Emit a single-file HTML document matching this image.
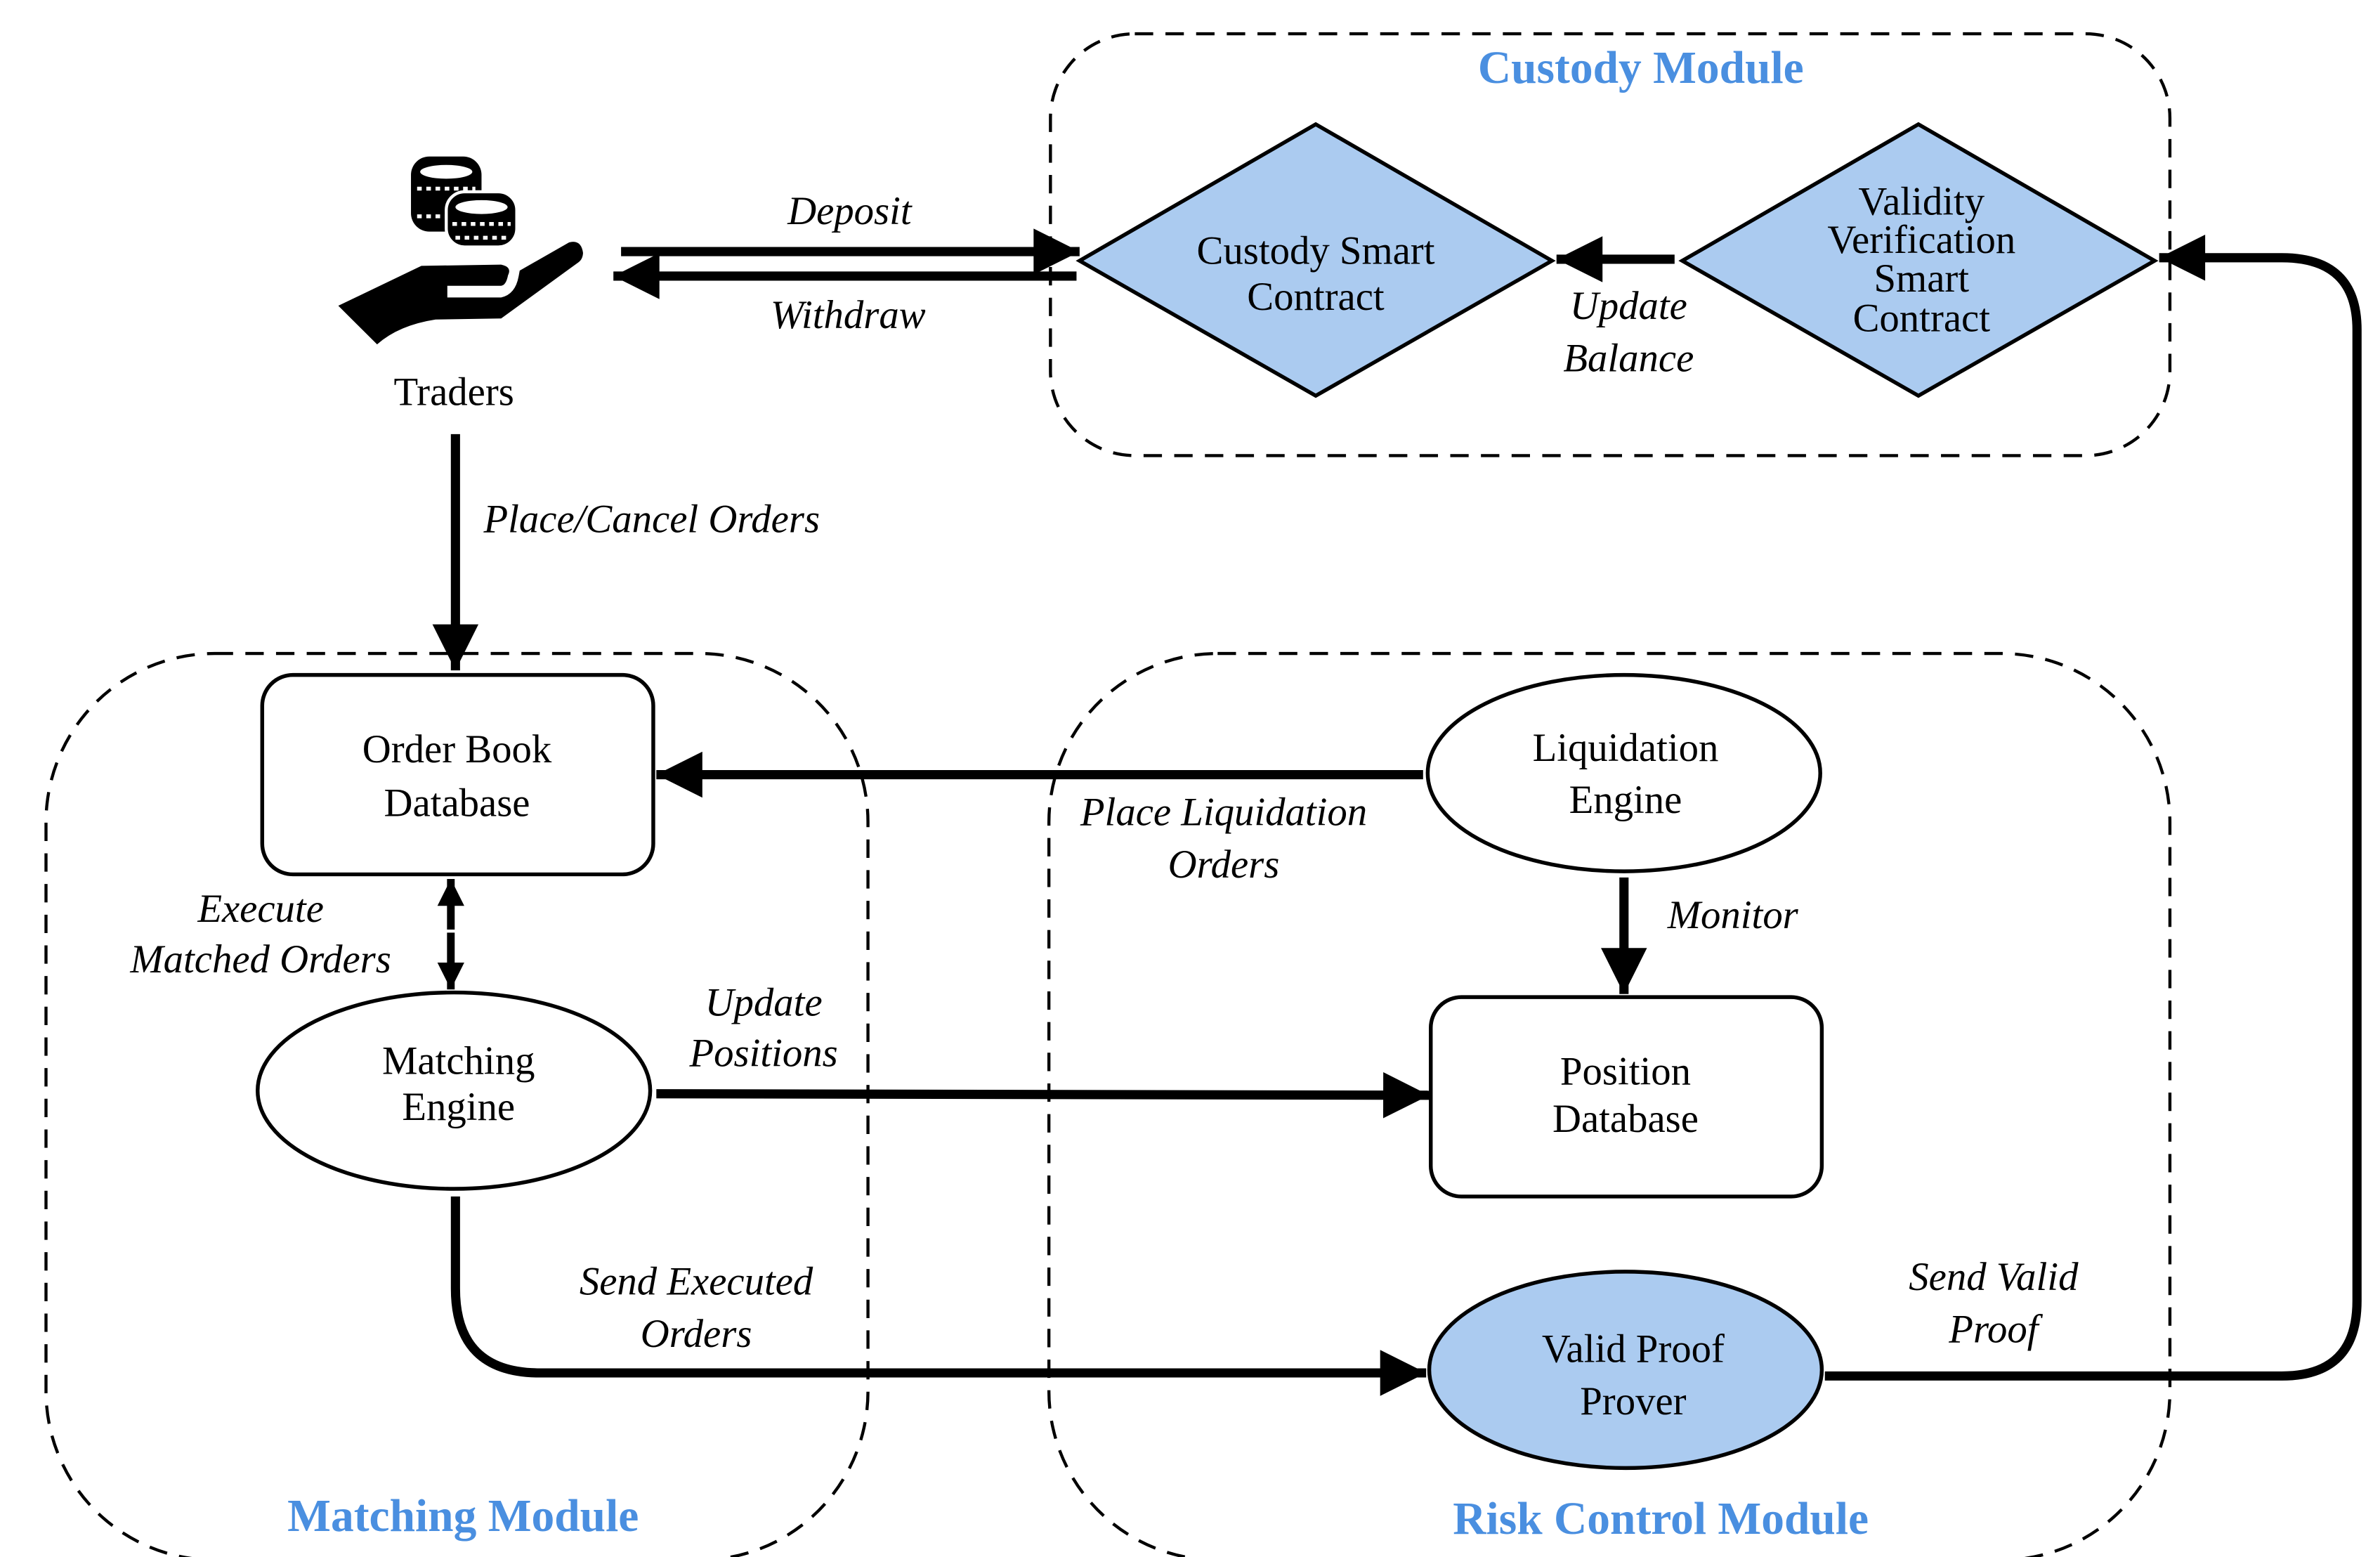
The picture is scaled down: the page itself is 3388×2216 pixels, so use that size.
<!DOCTYPE html>
<html><head><meta charset="utf-8"><style>
html,body{margin:0;padding:0;background:#fff;}
svg{display:block;}
text{font-family:"Liberation Serif","Times New Roman",serif;font-size:26px;fill:#000;}
.i{font-style:italic;}
.t{font-weight:bold;fill:#4a8fe0;font-size:30px;}
</style></head><body>
<svg width="3388" height="2216" viewBox="0 0 1552 1015" preserveAspectRatio="none" xmlns="http://www.w3.org/2000/svg" font-family="Liberation Serif, serif">
<defs>
<marker id="a" viewBox="0 0 10 10" refX="10" refY="5" markerWidth="7" markerHeight="5" markerUnits="strokeWidth" orient="auto-start-reverse">
<path d="M0,0 L10,5 L0,10 Z" fill="#000"/></marker>
<marker id="b" viewBox="0 0 10 10" refX="10" refY="5" markerWidth="4.5" markerHeight="3.5" markerUnits="strokeWidth" orient="auto-start-reverse">
<path d="M0,0 L10,5 L0,10 Z" fill="#000"/></marker>
</defs>
<g fill="none" stroke="#000" stroke-width="2" stroke-dasharray="12,8">
<rect x="685" y="22" width="730" height="275" rx="55"/>
<rect x="30" y="426" width="536" height="591" rx="110"/>
<rect x="684" y="426" width="731" height="591" rx="110"/>
</g>
<text class="t" font-family="Liberation Serif, serif" x="1070" y="54" text-anchor="middle">Custody Module</text>
<text class="t" font-family="Liberation Serif, serif" x="302" y="998" text-anchor="middle">Matching Module</text>
<text class="t" font-family="Liberation Serif, serif" x="1083" y="1000" text-anchor="middle">Risk Control Module</text>

<polygon points="704,170 858,81 1012,170 858,258" fill="#abcbf0" stroke="#000" stroke-width="2.5"/>
<polygon points="1097,170 1251,81 1405,170 1251,258" fill="#abcbf0" stroke="#000" stroke-width="2.5"/>
<text font-family="Liberation Serif, serif" x="858" y="172" text-anchor="middle">Custody Smart</text>
<text font-family="Liberation Serif, serif" x="858" y="202" text-anchor="middle">Contract</text>
<g text-anchor="middle" font-family="Liberation Serif, serif">
<text x="1253" y="140" font-size="25">Validity</text>
<text x="1253" y="165" font-size="25">Verification</text>
<text x="1253" y="190" font-size="25">Smart</text>
<text x="1253" y="216" font-size="25">Contract</text>
</g>

<!-- traders icon -->
<g>
<rect x="268" y="102" width="46" height="49" rx="12" fill="#000"/>
<ellipse cx="291" cy="112" rx="17" ry="4.5" fill="#fff"/>
<line x1="272" y1="123" x2="310" y2="123" stroke="#fff" stroke-width="2.5" stroke-dasharray="3,3"/>
<line x1="272" y1="141" x2="292" y2="141" stroke="#fff" stroke-width="2.5" stroke-dasharray="3,3"/>
<rect x="291" y="125" width="46" height="36" rx="12" fill="#000" stroke="#fff" stroke-width="2"/>
<ellipse cx="314" cy="135" rx="17" ry="4.5" fill="#fff"/>
<line x1="295" y1="146" x2="333" y2="146" stroke="#fff" stroke-width="2.5" stroke-dasharray="3,3"/>
<line x1="297" y1="155" x2="331" y2="155" stroke="#fff" stroke-width="2.5" stroke-dasharray="3,3"/>
<path fill="#000" d="M220.6,199.3 L274.8,173.3 L326.8,172.5 Q334,174 331.3,179.4 Q330,186 326.8,186.3 L291.7,186.3 L291.7,193.9 L326.8,193.9 Q336,192 338.2,180.2 L338.9,176.4 L371.1,158 Q379,156 380.2,164.9 Q380,169 377.2,171 L326.8,207.6 L284,208.3 Q260,212 245.9,224.5 Z"/>
</g>
<text font-family="Liberation Serif, serif" x="296" y="264" text-anchor="middle">Traders</text>

<g stroke="#000" stroke-width="6" fill="none">
<line x1="405" y1="164" x2="704" y2="164" marker-end="url(#a)"/>
<line x1="702" y1="180" x2="400" y2="180" marker-end="url(#a)"/>
<line x1="1092" y1="169" x2="1015" y2="169" marker-end="url(#a)"/>
<line x1="297" y1="283" x2="297" y2="437" marker-end="url(#a)"/>
<line x1="928" y1="505" x2="428" y2="505" marker-end="url(#a)"/>
<line x1="1059" y1="572" x2="1059" y2="648" marker-end="url(#a)"/>
<line x1="428" y1="713" x2="932" y2="714" marker-end="url(#a)"/>
<path d="M297,780 V840 Q297,895 352,895 H930" marker-end="url(#a)"/>
<path d="M1190,897 H1488 Q1537,897 1537,848 V215 Q1537,168 1488,168 H1408" marker-end="url(#a)"/>
<line x1="294" y1="606" x2="294" y2="573" stroke-width="5" marker-end="url(#b)"/>
<line x1="294" y1="608" x2="294" y2="645" stroke-width="5" marker-end="url(#b)"/>
</g>

<rect x="171" y="440" width="255" height="130" rx="20" fill="#fff" stroke="#000" stroke-width="2.5"/>
<text font-family="Liberation Serif, serif" x="298" y="497" text-anchor="middle">Order Book</text>
<text font-family="Liberation Serif, serif" x="298" y="532" text-anchor="middle">Database</text>
<ellipse cx="296" cy="711" rx="128" ry="64" fill="#fff" stroke="#000" stroke-width="2.5"/>
<text font-family="Liberation Serif, serif" x="299" y="700" text-anchor="middle">Matching</text>
<text font-family="Liberation Serif, serif" x="299" y="730" text-anchor="middle">Engine</text>
<ellipse cx="1059" cy="504" rx="128" ry="64" fill="#fff" stroke="#000" stroke-width="2.5"/>
<text font-family="Liberation Serif, serif" x="1060" y="496" text-anchor="middle">Liquidation</text>
<text font-family="Liberation Serif, serif" x="1060" y="530" text-anchor="middle">Engine</text>
<rect x="933" y="650" width="255" height="130" rx="20" fill="#fff" stroke="#000" stroke-width="2.5"/>
<text font-family="Liberation Serif, serif" x="1060" y="707" text-anchor="middle">Position</text>
<text font-family="Liberation Serif, serif" x="1060" y="738" text-anchor="middle">Database</text>
<ellipse cx="1060" cy="893" rx="128" ry="64" fill="#abcbf0" stroke="#000" stroke-width="2.5"/>
<text font-family="Liberation Serif, serif" x="1065" y="888" text-anchor="middle">Valid Proof</text>
<text font-family="Liberation Serif, serif" x="1065" y="922" text-anchor="middle">Prover</text>

<g text-anchor="middle" font-family="Liberation Serif, serif" font-style="italic">
<text class="i" x="554" y="146">Deposit</text>
<text class="i" x="553" y="214">Withdraw</text>
<text class="i" x="1062" y="208">Update</text>
<text class="i" x="1062" y="242">Balance</text>
<text class="i" x="425" y="347">Place/Cancel Orders</text>
<text class="i" x="798" y="538">Place Liquidation</text>
<text class="i" x="798" y="572">Orders</text>
<text class="i" x="170" y="601">Execute</text>
<text class="i" x="170" y="634">Matched Orders</text>
<text class="i" x="498" y="662">Update</text>
<text class="i" x="498" y="695">Positions</text>
<text class="i" x="1130" y="605">Monitor</text>
<text class="i" x="454" y="844">Send Executed</text>
<text class="i" x="454" y="878">Orders</text>
<text class="i" x="1300" y="841">Send Valid</text>
<text class="i" x="1300" y="875">Proof</text>
</g>
</svg>
</body></html>
